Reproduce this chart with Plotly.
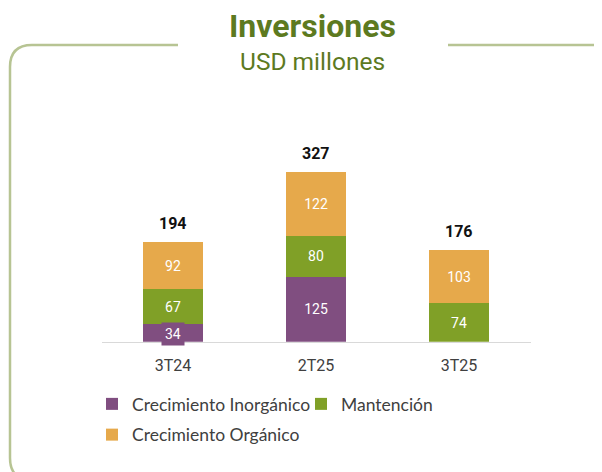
import plotly.graph_objects as go

# datos (USD millones)
trimestres = ["3T24", "2T25", "3T25"]
inorganico = [34, 125, 0]
mantencion = [67, 80, 74]
organico = [92, 122, 103]
totales = [194, 327, 176]

W, H = 602, 472
OFF = 8  # margen del body de la pagina
C_PURPLE = "#804e80"
C_GREEN = "#80a027"
C_ORANGE = "#e6a94b"
C_TITLE = "#5d7a1f"
C_FRAME = "#b7c493"


def px(x):
    return (x - OFF) / W


def py(y):
    return 1 - (y - OFF) / H


def lbl(vals):
    return [str(v) if v else "" for v in vals]


fig = go.Figure()

# el 34 va en una etiqueta aparte (segmento muy bajo)
txt_inorg = lbl(inorganico)
txt_inorg[0] = ""

series = [
    ("Crecimiento Inorgánico", inorganico, C_PURPLE, txt_inorg),
    ("Mantención", mantencion, C_GREEN, lbl(mantencion)),
    ("Crecimiento Orgánico", organico, C_ORANGE, lbl(organico)),
]
for i, (name, vals, col, txt) in enumerate(series):
    fig.add_trace(go.Bar(
        x=trimestres, y=vals, name=name, legendgroup=f"g{i}",
        marker=dict(color=col, line=dict(width=0)),
        text=txt, textposition="inside", insidetextanchor="middle",
        textfont=dict(family="Roboto", size=14, color="white"),
        hoverinfo="skip",
    ))

annotations = []
for t, tot, a, b, c in zip(trimestres, totales, inorganico, mantencion, organico):
    annotations.append(dict(
        x=t, y=a + b + c, xref="x", yref="y", text=f"<b>{tot}</b>",
        showarrow=False, yanchor="bottom", yshift=7,
        font=dict(family="Roboto", size=16, color="#111111"),
    ))

annotations.append(dict(
    x=trimestres[0], y=inorganico[0] / 2, xref="x", yref="y",
    text=str(inorganico[0]), showarrow=False, yshift=-1,
    bgcolor=C_PURPLE, borderpad=3,
    font=dict(family="Roboto", size=14, color="white"),
))

annotations += [
    dict(x=px(312), y=py(26), xref="paper", yref="paper",
         xanchor="center", yanchor="middle",
         text="<b>Inversiones</b>", showarrow=False,
         font=dict(family="Roboto", size=32, color=C_TITLE)),
    dict(x=px(312), y=py(61), xref="paper", yref="paper",
         xanchor="center", yanchor="middle",
         text="USD millones", showarrow=False,
         font=dict(family="Roboto", size=24.5, color=C_TITLE)),
]

# marco redondeado con hueco para el titulo
L, T, R, B, r = 10, 45, 620, 480, 22
pts = (f"M {px(178)},{py(T)} L {px(L + r)},{py(T)} "
       f"Q {px(L)},{py(T)} {px(L)},{py(T + r)} "
       f"L {px(L)},{py(B - r)} Q {px(L)},{py(B)} {px(L + r)},{py(B)} "
       f"L {px(R - r)},{py(B)} Q {px(R)},{py(B)} {px(R)},{py(B - r)} "
       f"L {px(R)},{py(T + r)} Q {px(R)},{py(T)} {px(R - r)},{py(T)} "
       f"L {px(448)},{py(T)}")

fig.update_layout(
    width=W, height=H,
    margin=dict(l=0, r=0, t=0, b=0),
    paper_bgcolor="white", plot_bgcolor="white",
    barmode="stack", bargap=0.58,
    xaxis=dict(
        domain=[px(101.5), px(530.5)],
        showgrid=False, showline=True, linecolor="#d9d9d9", linewidth=1,
        ticks="", ticklabelstandoff=9,
        tickfont=dict(family="Roboto", size=16, color="#404040"),
        fixedrange=True,
    ),
    yaxis=dict(
        domain=[py(341.7), py(134.5)], range=[0, 400],
        visible=False, showgrid=False, zeroline=False, fixedrange=True,
    ),
    showlegend=True,
    legend=dict(
        orientation="h", x=px(92), y=py(386), xanchor="left", yanchor="top",
        xref="paper", yref="paper",
        entrywidth=164, traceorder="grouped", tracegroupgap=5,
        font=dict(family="Lato", size=17.5, color="#404040"),
        bgcolor="rgba(0,0,0,0)",
    ),
    annotations=annotations,
    shapes=[dict(type="path", path=pts, xref="paper", yref="paper",
                 line=dict(color=C_FRAME, width=2.5), layer="below")],
)

fig.write_html("out.html")
